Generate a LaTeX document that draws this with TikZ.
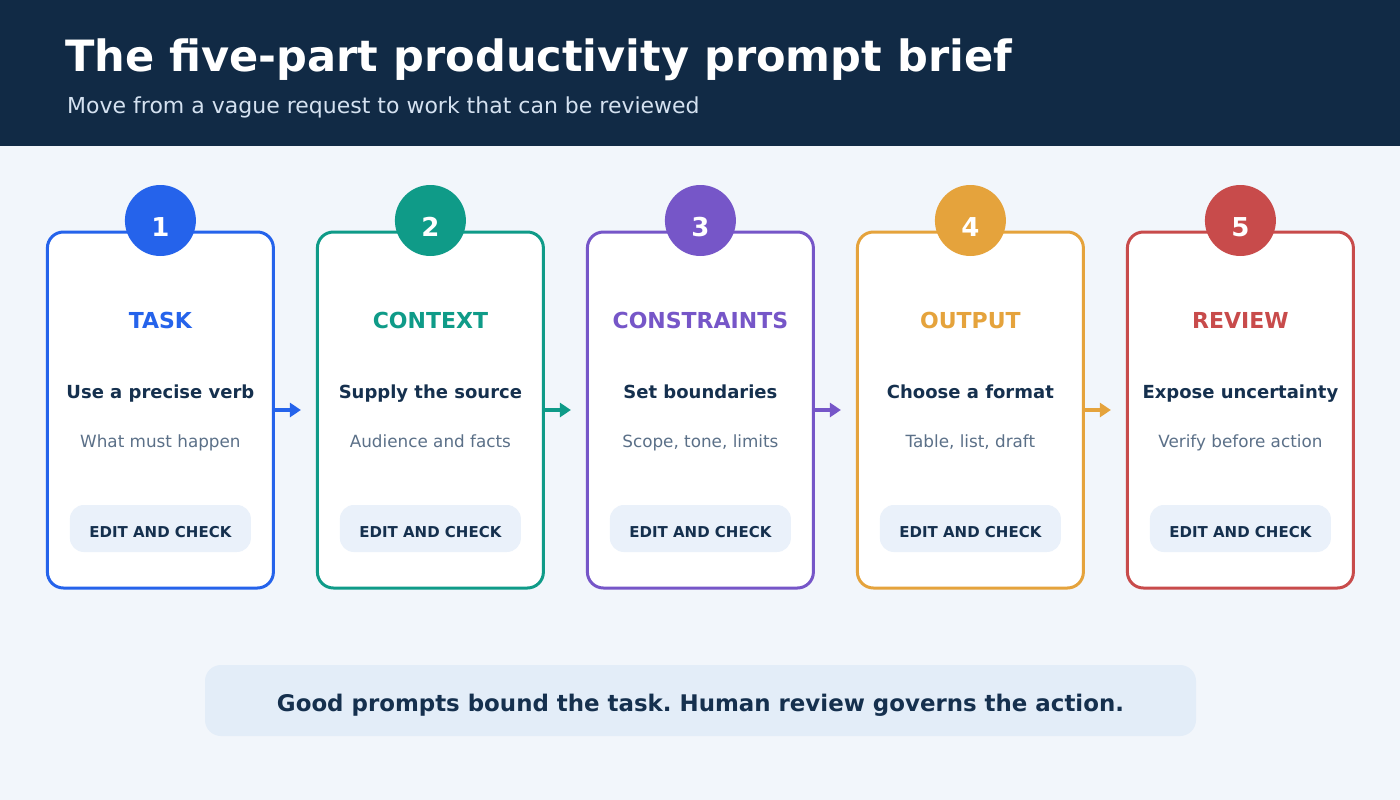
\documentclass[tikz,border=0pt]{standalone}
\usepackage{fontspec}
\setmainfont{DejaVu Sans}
\usetikzlibrary{arrows.meta}
\frenchspacing

\definecolor{headbg}{HTML}{112A45}
\definecolor{pagebg}{HTML}{F2F6FB}
\definecolor{inkdark}{HTML}{15304E}
\definecolor{inkgrey}{HTML}{5B7088}
\definecolor{subink}{HTML}{D4E1F0}
\definecolor{pillbg}{HTML}{EAF1FA}
\definecolor{notebg}{HTML}{E3EDF8}
\definecolor{cTask}{HTML}{2563EB}
\definecolor{cContext}{HTML}{0F9B88}
\definecolor{cConstr}{HTML}{7656C8}
\definecolor{cOutput}{HTML}{E5A33C}
\definecolor{cReview}{HTML}{C84B4B}

\tikzset{
  card/.style={draw=#1,line width=3pt,fill=white,rounded corners=16pt,
    minimum width=226pt,minimum height=356pt,inner sep=0pt},
  badge/.style={circle,fill=#1,minimum size=71pt,inner sep=0pt},
  badgenum/.style={text=white,font=\fontsize{26}{30}\selectfont\bfseries,anchor=base},
  parttitle/.style={text=#1,font=\fontsize{22}{26}\selectfont\bfseries,anchor=base},
  verbline/.style={text=inkdark,font=\fontsize{18}{21}\selectfont\bfseries,anchor=base},
  hintline/.style={text=inkgrey,font=\fontsize{16.8}{20}\selectfont,anchor=base},
  pill/.style={fill=pillbg,rounded corners=14pt,minimum width=181pt,minimum height=47pt,
    inner sep=0pt,text=inkdark,font=\fontsize{15}{17}\selectfont\bfseries},
  flow/.style={draw=#1,line width=4pt,-{Triangle[length=11pt,width=14pt]},shorten >=15pt},
}

\begin{document}
\begin{tikzpicture}[x=1pt,y=-1pt]
\path[use as bounding box] (0,0) rectangle (1400,800);
\fill[pagebg] (0,0) rectangle (1400,800);
\fill[headbg] (0,0) rectangle (1400,146);
\node[anchor=base west,inner sep=0pt,text=white,font=\fontsize{43.1}{50}\selectfont\bfseries] (title) at (65,72) {The five-part productivity prompt brief};
\node[anchor=base west,inner sep=0pt,text=subink,font=\fontsize{22}{26}\selectfont] (subtitle) at (67,113) {Move from a vague request to work that can be reviewed};

\foreach \i/\col/\head/\verb/\hint in {
  1/cTask/TASK/Use a precise verb/What must happen,
  2/cContext/CONTEXT/Supply the source/Audience and facts,
  3/cConstr/CONSTRAINTS/Set boundaries/{Scope, tone, limits},
  4/cOutput/OUTPUT/Choose a format/{Table, list, draft},
  5/cReview/REVIEW/Expose uncertainty/Verify before action}{
  \pgfmathsetmacro{\cx}{160.4+270*(\i-1)}
  \node[card=\col] (card\i) at (\cx,410) {};
  \node[badge=\col] (badge\i) at (\cx,220.5) {};
  \node[badgenum,inner sep=0pt] (num\i) at (\cx,236) {\i};
  \node[parttitle=\col,inner sep=0pt] (head\i) at (\cx,328) {\head};
  \node[verbline,inner sep=0pt] (verb\i) at (\cx,398.5) {\verb};
  \node[hintline,inner sep=0pt] (hint\i) at (\cx,447.5) {\hint};
  \node[pill,text depth=0pt,text height=18pt] (pill\i) at (\cx,528.5) {EDIT AND CHECK};
}

\draw[flow=cTask] (card1) -- (card2);
\draw[flow=cContext] (card2) -- (card3);
\draw[flow=cConstr] (card3) -- (card4);
\draw[flow=cOutput] (card4) -- (card5);

\node[fill=notebg,rounded corners=16pt,minimum width=991pt,minimum height=71pt,inner sep=0pt,
  text depth=0pt,text height=21.8pt,
  text=inkdark,font=\fontsize{22.9}{27}\selectfont\bfseries] (note) at (700.5,700.5)
  {Good prompts bound the task. Human review governs the action.};
\end{tikzpicture}
\end{document}
